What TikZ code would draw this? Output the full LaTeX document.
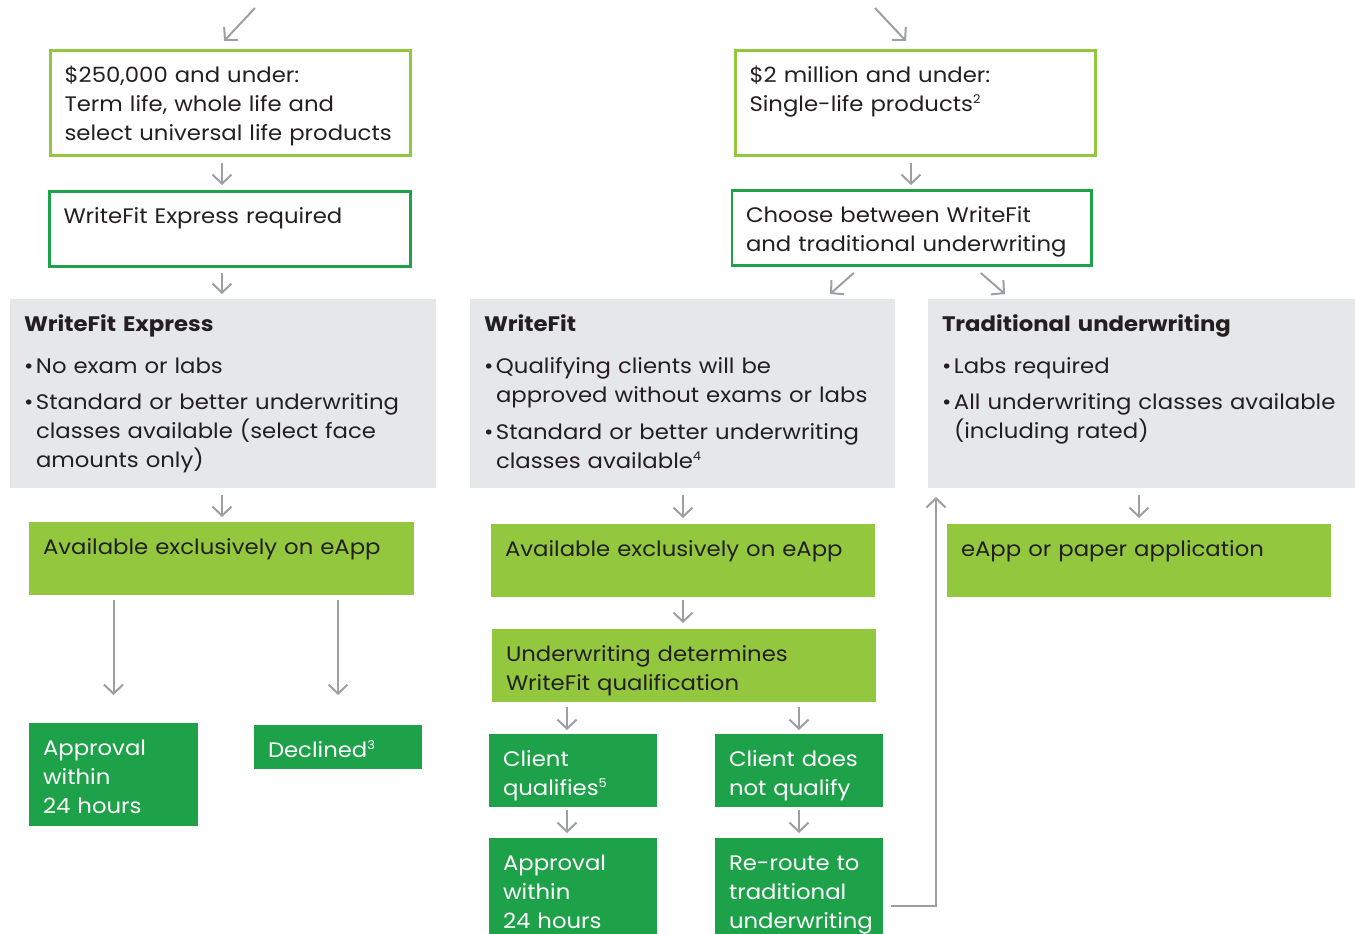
\documentclass[tikz,border=0pt]{standalone}
\usepackage{fontspec}
\setmainfont{Poppins}[FakeStretch=1.085]
\usepackage{tikz}
\usetikzlibrary{calc,arrows.meta}
\definecolor{ink}{HTML}{231F20}
\definecolor{lime}{HTML}{93C83E}
\definecolor{leaf}{HTML}{1DA24A}
\definecolor{mist}{HTML}{E6E7E8}
\definecolor{arrowgrey}{HTML}{9D9FA2}
\newcommand{\fs}{\fontsize{21}{29}\selectfont}
\newcommand{\fn}[1]{\raisebox{8pt}{\fontsize{12}{12}\selectfont #1}}
\newcommand{\bulletline}[2]{\makebox[12pt][l]{\textbullet}\parbox[t]{#1}{\raggedright\strut #2\strut}}
\tikzset{
  frame/.style={anchor=north west, outer sep=0pt, inner xsep=14pt, inner ysep=12pt,
    text height=20pt, align=left, text=ink, font=\fs, line width=2.6pt},
  limeframe/.style={frame, draw=lime},
  leafframe/.style={frame, draw=leaf},
  panel/.style={frame, fill=mist},
  limebox/.style={frame, fill=lime},
  leafbox/.style={frame, fill=leaf, text=white},
  flow/.style={draw=arrowgrey, line width=2pt, -{Straight Barb[length=9pt,width=19pt]}},
}

\begin{document}
\begin{tikzpicture}[x=1pt, y=-1pt]
  \useasboundingbox (0,0) rectangle (1355,934);
  \coordinate (inA) at (255,8);
  \coordinate (inB) at (875,8);

  % left column: WriteFit Express
  \node[limeframe, text width=332pt, text depth=61pt] (small) at (50.5,50.5)
    {\$250,000 and under:\\Term life, whole life and\\select universal life products};
  \node[leafframe, text width=333pt, text depth=31pt] (express) at (49.5,191.5)
    {WriteFit Express required};
  \node[panel, text width=398pt, text depth=145pt] (expresspanel) at (10,299)
    {\textbf{WriteFit Express}\par\vspace{13pt}
     \bulletline{385pt}{No exam or labs}\par\vspace{7pt}
     \bulletline{385pt}{Standard or better underwriting classes available (select face amounts only)}};
  \node[limebox, text width=357pt, text depth=29pt] (eappA) at (29,522)
    {Available exclusively on eApp};
  \node[leafbox, text width=141pt, text depth=59pt] (approvalA) at (29,723)
    {Approval\\within\\24 hours};
  \node[leafbox, text width=140pt, text depth=0pt] (declined) at (254,725)
    {Declined\fn{3}};

  % $2 million branch
  \node[limeframe, text width=332pt, text depth=61pt] (large) at (735.5,50.5)
    {\$2 million and under:\\Single-life products\fn{2}};
  \node[leafframe, text width=331.5pt, text depth=31pt] (choose) at (732,190.5)
    {Choose between WriteFit\\and traditional underwriting};

  % WriteFit
  \node[panel, text width=397pt, text depth=145pt] (wfpanel) at (470,299)
    {\textbf{WriteFit}\par\vspace{13pt}
     \bulletline{384pt}{Qualifying clients will be approved without exams or labs}\par\vspace{7pt}
     \bulletline{384pt}{Standard or better underwriting classes available\fn{4}}};
  \node[limebox, text width=356pt, text depth=29pt] (eappB) at (491,524)
    {Available exclusively on eApp};
  \node[limebox, text width=356pt, text depth=29pt] (determine) at (492,629)
    {Underwriting determines\\WriteFit qualification};
  \node[leafbox, text width=140pt, text depth=29pt] (qualifies) at (489,734)
    {Client\\qualifies\fn{5}};
  \node[leafbox, text width=140pt, text depth=29pt] (notqual) at (715,734)
    {Client does\\not qualify};
  \node[leafbox, text width=140pt, text depth=52pt] (approvalB) at (489,838)
    {Approval\\within\\24 hours};
  \node[leafbox, text width=140pt, text depth=52pt] (reroute) at (715,838)
    {Re-route to\\traditional\\underwriting};

  % traditional
  \node[panel, text width=399pt, text depth=145pt] (tradpanel) at (928,299)
    {\textbf{Traditional underwriting}\par\vspace{13pt}
     \bulletline{390pt}{Labs required}\par\vspace{7pt}
     \bulletline{390pt}{All underwriting classes available (including rated)}};
  \node[limebox, text width=356pt, text depth=29pt] (paper) at (947,524)
    {eApp or paper application};

  % connectors
  \draw[flow] (inA) -- ($(small.north)+(-6.5,-9.5)$);
  \draw[flow] ($(small.south)+(-8.5,7.5)$) -- ($(express.north)+(-8,-6.5)$);
  \draw[flow] ($(express.south)+(-8,6.5)$) -- ($(expresspanel.north)+(-1,-5)$);
  \draw[flow] ($(expresspanel.south)+(-1,7)$) -- ($(eappA.north)+(0.5,-5)$);
  \draw[flow] ($(approvalA |- eappA.south)+(0,5)$) -- ($(approvalA.north)+(0,-28)$);
  \draw[flow] ($(declined |- eappA.south)+(0,5)$) -- ($(declined.north)+(0,-30)$);

  \draw[flow] (inB) -- ($(large.north)+(-9.5,-9.5)$);
  \draw[flow] ($(large.south)+(-4.5,7.5)$) -- ($(choose.north)+(-0.75,-5.5)$);
  \draw[flow] ($(choose.south)+(-58,7.5)$) -- ($(wfpanel.north east)+(-65,-5)$);
  \draw[flow] ($(choose.south)+(69,7.5)$) -- ($(tradpanel.north west)+(77,-5)$);

  \draw[flow] ($(wfpanel.south)+(0.5,7)$) -- ($(eappB.north)+(0,-6)$);
  \draw[flow] ($(eappB.south)+(0,3)$) -- ($(determine.north)+(-1,-6)$);
  \draw[flow] ($(qualifies.north)+(-6,-27)$) -- ($(qualifies.north)+(-6,-4)$);
  \draw[flow] ($(notqual.north)+(0,-27)$) -- ($(notqual.north)+(0,-4)$);
  \draw[flow] ($(approvalB.north)+(-6,-28)$) -- ($(approvalB.north)+(-6,-5)$);
  \draw[flow] ($(reroute.north)+(0,-28)$) -- ($(reroute.north)+(0,-5)$);
  \draw[flow] ($(reroute.south east)+(8,-28)$) -| ($(tradpanel.south west)+(8,9)$);

  \draw[flow] ($(tradpanel.south)+(-2.5,7)$) -- ($(paper.north)+(0,-6)$);
\end{tikzpicture}
\end{document}
